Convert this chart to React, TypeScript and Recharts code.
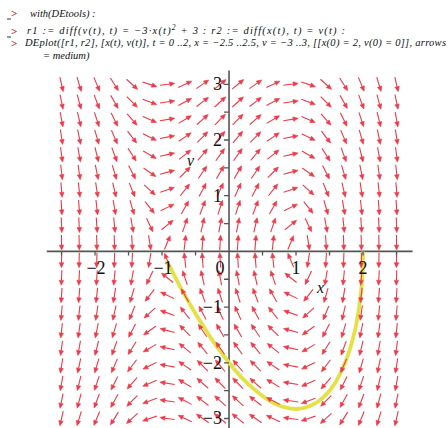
import React from "react";
import {
  ComposedChart,
  Scatter,
  Line,
  XAxis,
  YAxis,
  ReferenceLine,
} from "recharts";

// direction field grid (20 x 20)
const xCols = [
  -2.5, -2.237, -1.974, -1.711, -1.447, -1.184, -0.921, -0.658, -0.395, -0.132,
  0.132, 0.395, 0.658, 0.921, 1.184, 1.447, 1.711, 1.974, 2.237, 2.5,
];
// dv/dt at each column (3 - 3x^2)
const vdotCols = [
  -15.75, -12.01, -8.69, -5.78, -3.28, -1.21, 0.46, 1.7, 2.53, 2.95,
  2.95, 2.53, 1.7, 0.46, -1.21, -3.28, -5.78, -8.69, -12.01, -15.75,
];
const vRows = [
  -3, -2.684, -2.368, -2.053, -1.737, -1.421, -1.105, -0.789, -0.474, -0.158,
  0.158, 0.474, 0.789, 1.105, 1.421, 1.737, 2.053, 2.368, 2.684, 3,
];

// yellow trajectory from x(0)=2, v(0)=0
const curveX = [
  -0.94, -0.9, -0.8, -0.7, -0.6, -0.5, -0.4, -0.3, -0.2, -0.1, 0, 0.2, 0.4,
  0.6, 0.8, 1.0, 1.2, 1.4, 1.6, 1.7, 1.8, 1.85, 1.9, 1.95, 1.98, 1.995, 2.0,
];
const curveV = [
  -0.17, -0.24, -0.47, -0.7, -0.91, -1.12, -1.31, -1.5, -1.68, -1.84, -2.0,
  -2.28, -2.5, -2.68, -2.79, -2.83, -2.78, -2.63, -2.33, -2.09, -1.77, -1.56,
  -1.3, -0.93, -0.6, -0.3, 0,
];

const xTickValues = [-2, -1, 0, 1, 2];
const xTickLabels = ["\u22122", "\u22121", "0", "1", "2"];
const vTickValues = [-3, -2, -1, 1, 2, 3];
const vTickLabels = ["\u22123", "\u22122", "\u22121", "1", "2", "3"];
const xMinor = [-2.5, -2, -1.5, -1, -0.5, 0.5, 1, 1.5, 2, 2.5];
const vMinor = [-3, -2.5, -2, -1.5, -1, -0.5, 0.5, 1, 1.5, 2, 2.5, 3];

const arrowData = vRows.flatMap((v) =>
  xCols.map((x, i) => ({ x, v, vdot: vdotCols[i] }))
);
const curveData = curveX.map((x, i) => ({ x, v: curveV[i] }));
const xTickData = xMinor.map((x) => ({ x, v: 0 }));
const vTickData = vMinor.map((v) => ({ x: 0, v }));
const xLabelData = xTickValues.map((x, i) => ({ x, v: 0, label: xTickLabels[i] }));
const vLabelData = vTickValues.map((v, i) => ({ x: 0, v, label: vTickLabels[i] }));

const PX_X = 67;
const PX_Y = 55.7;
const ARROW = "#ee3a48";
const AXIS = "#555";
const SERIF = "'Liberation Serif', 'Times New Roman', serif";

const ArrowShape = (props: any) => {
  const { cx, cy, payload } = props;
  if (cx == null || cy == null) return null;
  let dx = payload.v * PX_X;
  let dy = -payload.vdot * PX_Y;
  const n = Math.hypot(dx, dy) || 1;
  dx /= n;
  dy /= n;
  const L = 15;
  const x1 = cx - (dx * L) / 2;
  const y1 = cy - (dy * L) / 2;
  const x2 = cx + (dx * L) / 2;
  const y2 = cy + (dy * L) / 2;
  const hl = 5;
  const hw = 2.2;
  const bx = x2 - dx * hl;
  const by = y2 - dy * hl;
  const head = `M${x2},${y2} L${bx - dy * hw},${by + dx * hw} L${bx + dy * hw},${by - dx * hw} Z`;
  return (
    <g>
      <line x1={x1} y1={y1} x2={bx} y2={by} stroke={ARROW} strokeWidth={1.1} />
      <path d={head} fill={ARROW} stroke={ARROW} strokeWidth={0.6} />
    </g>
  );
};

const XTick = (props: any) => {
  const { cx, cy } = props;
  return <line x1={cx} y1={cy} x2={cx} y2={cy + 4} stroke={AXIS} strokeWidth={1.3} />;
};

const VTick = (props: any) => {
  const { cx, cy } = props;
  return <line x1={cx - 5} y1={cy} x2={cx} y2={cy} stroke={AXIS} strokeWidth={1.3} />;
};

const XLabel = (props: any) => {
  const { cx, cy, payload } = props;
  const shift = payload.x === 0 ? -9 : payload.x < 0 ? 1 : 0;
  return (
    <text x={cx + shift} y={cy + 23} textAnchor="middle" fontSize={18} fontFamily={SERIF} fill="#111">
      {payload.label}
    </text>
  );
};

const VLabel = (props: any) => {
  const { cx, cy, payload } = props;
  return (
    <text x={cx - 7} y={cy + 6} textAnchor="end" fontSize={18} fontFamily={SERIF} fill="#111">
      {payload.label}
    </text>
  );
};

const Prompt = ({ y, eq }: { y: number; eq?: boolean }) => (
  <g>
    {eq && <line x1={7} y1={y + 2} x2={11} y2={y + 2} stroke="#334" strokeWidth={1} />}
    <text x={11} y={y} fontSize={11} fontFamily={SERIF} fill="#b0202a" fontWeight="bold">
      &gt;
    </text>
  </g>
);

export default function App() {
  const textStyle = { fontFamily: SERIF, fontStyle: "italic" as const, fontSize: 10.5, fill: "#111" };
  return (
    <div style={{ position: "absolute", left: 0, top: 0, width: 448, height: 428, overflow: "hidden", background: "#fff" }}>
      <ComposedChart
        width={448}
        height={440}
        margin={{ top: 70.4, right: 35.4, bottom: 4.8, left: 46.8 }}
      >
        <XAxis type="number" dataKey="x" domain={[-2.72, 2.74]} hide allowDataOverflow />
        <YAxis type="number" dataKey="v" domain={[-3.3, 3.25]} hide allowDataOverflow width={0} />
        <Scatter data={arrowData} dataKey="v" shape={ArrowShape} isAnimationActive={false} />
        <ReferenceLine x={0} stroke={AXIS} strokeWidth={1.6} ifOverflow="visible" />
        <ReferenceLine y={0} stroke={AXIS} strokeWidth={1.6} ifOverflow="visible" />
        <Scatter data={xTickData} dataKey="v" shape={XTick} isAnimationActive={false} />
        <Scatter data={vTickData} dataKey="v" shape={VTick} isAnimationActive={false} />
        <Scatter data={xLabelData} dataKey="v" shape={XLabel} isAnimationActive={false} />
        <Scatter data={vLabelData} dataKey="v" shape={VLabel} isAnimationActive={false} />
        <Line
          data={curveData}
          dataKey="v"
          type="monotone"
          stroke="#e2e244"
          strokeWidth={3.8}
          dot={false}
          activeDot={false}
          isAnimationActive={false}
        />
      </ComposedChart>
      <svg width={448} height={428} style={{ position: "absolute", left: 0, top: 0, pointerEvents: "none" }}>
        <Prompt y={17} eq />
        <text x={30} y={17} {...textStyle}>
          with(DEtools) :
        </text>
        <Prompt y={35} eq />
        <text x={27} y={34} {...textStyle} textLength={318} lengthAdjust="spacing">
          r1 := diff(v(t), t) = {"\u2212"}3·x(t)
          <tspan dy={-4} fontSize={7.5}>2</tspan>
          <tspan dy={4}> + 3 : r2 := diff(x(t), t) = v(t) :</tspan>
        </text>
        <Prompt y={47} />
        <text x={25} y={46} {...textStyle} textLength={421} lengthAdjust="spacing">
          DEplot([r1, r2], [x(t), v(t)], t = 0 ..2, x = {"\u2212"}2.5 ..2.5, v = {"\u2212"}3 ..3, [[x(0) = 2, v(0) = 0]], arrows
        </text>
        <text x={43} y={59} {...textStyle}>
          = medium)
        </text>
        <text x={187} y={166} fontFamily={SERIF} fontStyle="italic" fontSize={16} fill="#111">
          v
        </text>
        <text x={317} y={293} fontFamily={SERIF} fontStyle="italic" fontSize={16} fill="#111">
          x
        </text>
      </svg>
    </div>
  );
}
